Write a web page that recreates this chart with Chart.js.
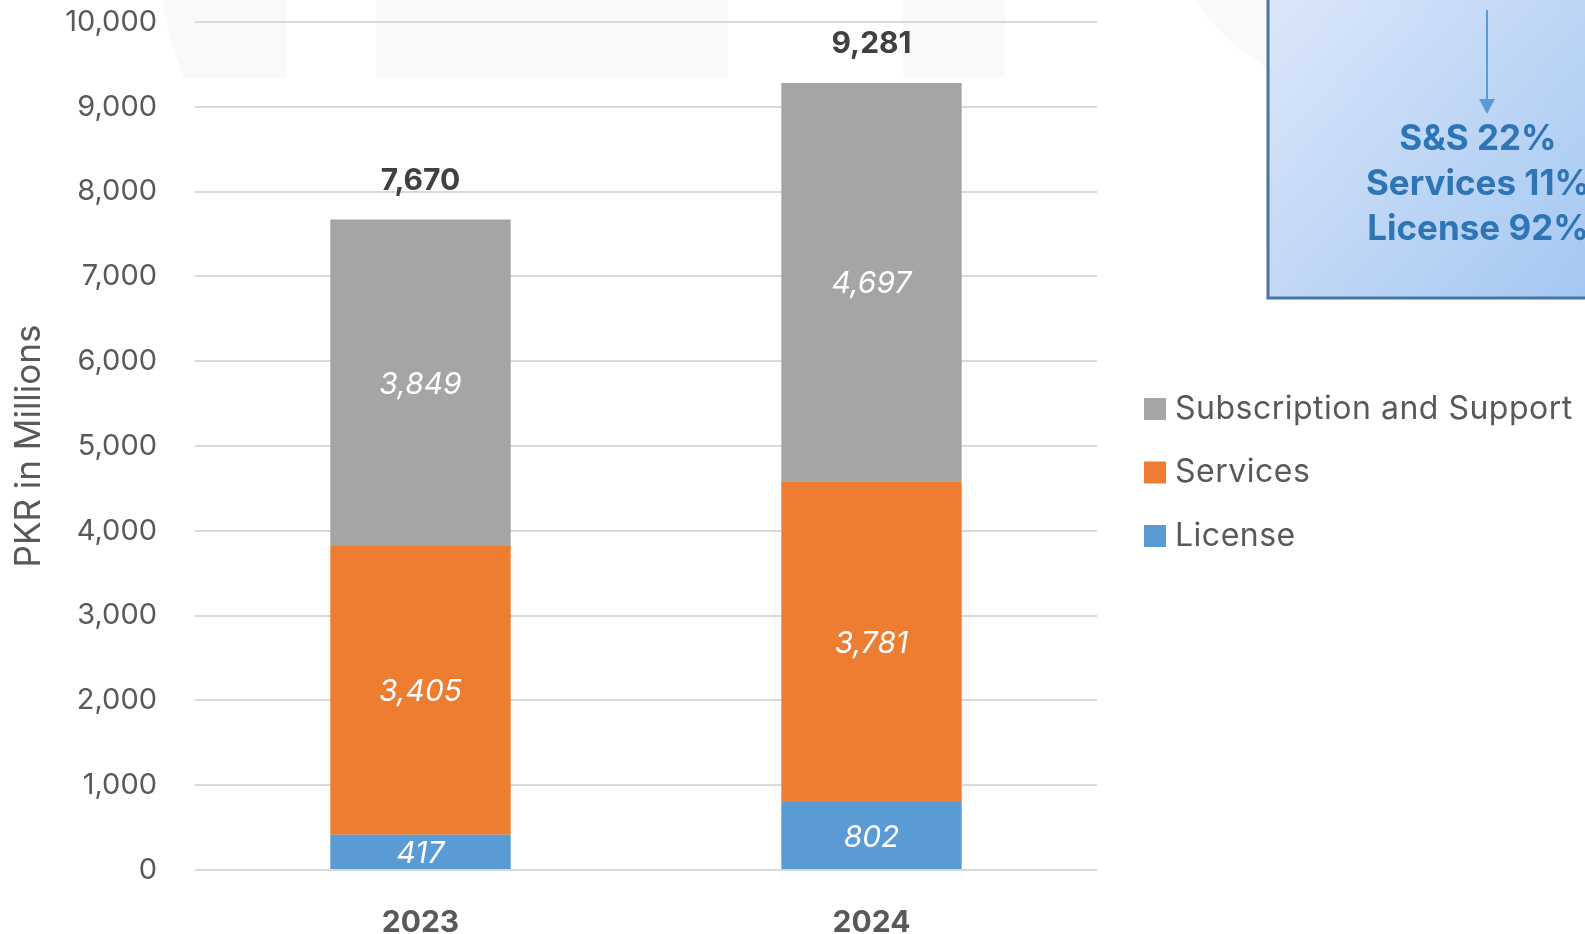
<!DOCTYPE html>
<html>
<head>
<meta charset="utf-8">
<script src="https://cdn.jsdelivr.net/npm/chart.js@4.4.1/dist/chart.umd.min.js"></script>
<style>
  html, body { margin: 0; padding: 0; background: #ffffff; }
  #wrap { width: 1585px; height: 934px; position: relative; }
</style>
</head>
<body>
<div id="wrap"><canvas id="revenue"></canvas></div>
<script>
// Revenue by stream, PKR in millions
const years = ['2023', '2024'];
const licenseValues = [417, 802];
const servicesValues = [3405, 3781];
const subscriptionValues = [3849, 4697];
const reportedTotals = [7670, 9281];
const yAxisMin = 0;
const yAxisMax = 10000;
const yAxisStep = 1000;
const growthNotes = ['S&S 22%', 'Services 11%', 'License 92%'];

const FONT = 'Inter, "Open Sans", "Noto Sans", sans-serif';
const TEXT_GRAY = '#595959';
const fmt = v => v.toLocaleString('en-US');

// Faint decorative shapes behind the plot
const backdrop = {
  id: 'backdrop',
  beforeDraw(chart) {
    const ctx = chart.ctx;
    ctx.save();
    ctx.fillStyle = '#f9f9f9';
    ctx.beginPath();
    ctx.moveTo(162, 0); ctx.lineTo(286, 0); ctx.lineTo(286, 78); ctx.lineTo(184, 78); ctx.lineTo(170, 40);
    ctx.closePath(); ctx.fill();
    ctx.fillRect(376, 0, 352, 77);
    ctx.fillRect(903, 0, 102, 77);
    ctx.beginPath();
    ctx.arc(1385, -130, 230, 0, Math.PI * 2);
    ctx.fill();
    ctx.restore();
  }
};

// Value labels inside segments and totals above each stack
const valueLabels = {
  id: 'valueLabels',
  afterDatasetsDraw(chart) {
    const ctx = chart.ctx;
    ctx.save();
    ctx.textAlign = 'center';
    ctx.textBaseline = 'middle';
    ctx.fillStyle = '#ffffff';
    ctx.font = 'italic 30px ' + FONT;
    chart.data.datasets.forEach((ds, i) => {
      chart.getDatasetMeta(i).data.forEach((bar, j) => {
        ctx.fillText(fmt(ds.data[j]), bar.x, (bar.y + bar.base) / 2 + 2);
      });
    });
    const topMeta = chart.getDatasetMeta(chart.data.datasets.length - 1);
    ctx.fillStyle = '#404040';
    ctx.font = 'bold 30px ' + FONT;
    topMeta.data.forEach((bar, j) => {
      ctx.fillText(fmt(reportedTotals[j]), bar.x, bar.y - 39);
    });
    ctx.restore();
  }
};

// Legend on the right and the growth call-out box
const sidePanel = {
  id: 'sidePanel',
  afterDraw(chart) {
    const ctx = chart.ctx;
    ctx.save();
    const items = chart.data.datasets.slice().reverse();
    ctx.textAlign = 'left';
    ctx.textBaseline = 'middle';
    ctx.font = '32px ' + FONT;
    ctx.letterSpacing = '0.5px';
    items.forEach((ds, k) => {
      const cy = 409 + k * 63.5;
      ctx.fillStyle = ds.backgroundColor;
      ctx.fillRect(1144, cy - 11, 22, 22);
      ctx.fillStyle = TEXT_GRAY;
      ctx.fillText(ds.label, 1175, cy);
    });
    ctx.letterSpacing = '0px';

    const bx = 1268, by = -4, bw = 340, bh = 302;
    const grad = ctx.createLinearGradient(bx, 0, bx + bw, bh);
    grad.addColorStop(0, '#dbe7f9');
    grad.addColorStop(1, '#a2c6f2');
    ctx.fillStyle = grad;
    ctx.fillRect(bx, by, bw, bh);
    ctx.strokeStyle = '#4a75a3';
    ctx.lineWidth = 3;
    ctx.strokeRect(bx, by, bw, bh);

    ctx.strokeStyle = '#5b9bd5';
    ctx.lineWidth = 2;
    ctx.beginPath(); ctx.moveTo(1487, 10); ctx.lineTo(1487, 102); ctx.stroke();
    ctx.fillStyle = '#5b9bd5';
    ctx.beginPath(); ctx.moveTo(1479, 99); ctx.lineTo(1495, 99); ctx.lineTo(1487, 114); ctx.closePath(); ctx.fill();

    ctx.fillStyle = '#2e75b6';
    ctx.textAlign = 'center';
    ctx.font = 'bold 35px ' + FONT;
    growthNotes.forEach((t, k) => ctx.fillText(t, 1478, 139 + k * 45));
    ctx.restore();
  }
};

new Chart(document.getElementById('revenue'), {
  type: 'bar',
  data: {
    labels: years,
    datasets: [
      { label: 'License', data: licenseValues, backgroundColor: '#5b9bd5' },
      { label: 'Services', data: servicesValues, backgroundColor: '#ed7d31' },
      { label: 'Subscription and Support', data: subscriptionValues, backgroundColor: '#a5a5a5' }
    ]
  },
  options: {
    responsive: true,
    maintainAspectRatio: false,
    animation: false,
    layout: { padding: { left: 0, right: 488, top: 22, bottom: 0 } },
    datasets: { bar: { barPercentage: 0.4, categoryPercentage: 1.0, borderWidth: 0 } },
    plugins: { legend: { display: false }, tooltip: { enabled: false } },
    scales: {
      x: {
        stacked: true,
        grid: { display: false, drawTicks: false },
        border: { display: false },
        ticks: { color: TEXT_GRAY, font: { family: FONT, size: 30, weight: 'bold' }, padding: 35 },
        afterFit(scale) { scale.height = 64; }
      },
      y: {
        stacked: true,
        min: yAxisMin,
        max: yAxisMax,
        border: { display: false },
        grid: { color: '#d9d9d9', lineWidth: 2, drawTicks: true, tickLength: 38, tickColor: 'rgba(0,0,0,0)' },
        ticks: {
          stepSize: yAxisStep,
          color: TEXT_GRAY,
          padding: 0,
          font: { family: FONT, size: 29 },
          callback: v => fmt(v)
        },
        title: {
          display: true,
          text: 'PKR in Millions',
          color: TEXT_GRAY,
          font: { family: FONT, size: 35 },
          padding: { top: 8, bottom: 0 }
        },
        afterFit(scale) { scale.width = 195; }
      }
    }
  },
  plugins: [backdrop, valueLabels, sidePanel]
});
</script>
</body>
</html>
